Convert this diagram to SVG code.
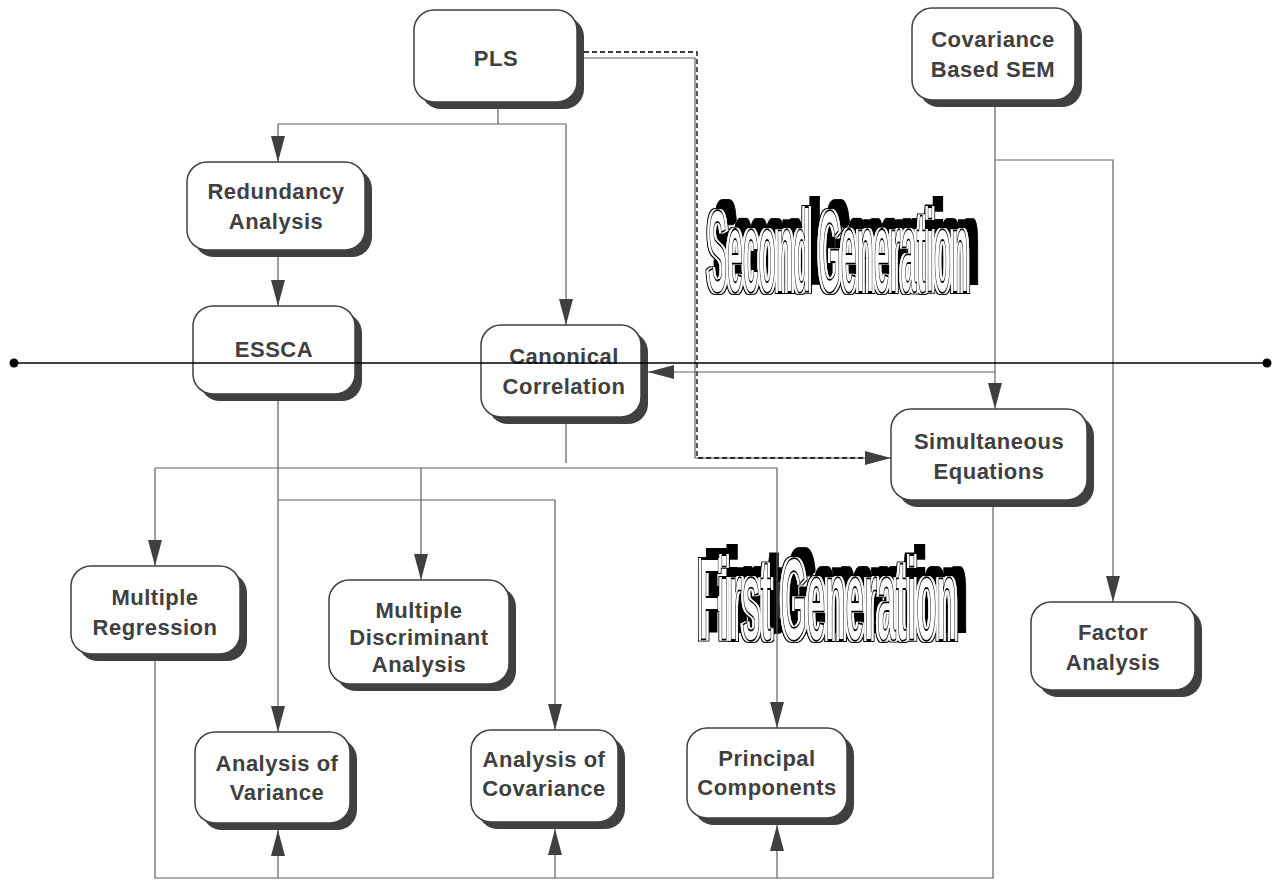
<svg xmlns="http://www.w3.org/2000/svg" width="1274" height="880" viewBox="0 0 1274 880">
<style>
.shadow{fill:#404040}
.box{fill:#fff;stroke:#404040;stroke-width:1.5}
.lbl{font-family:"Liberation Sans",Arial,sans-serif;font-weight:bold;font-size:22px;fill:#404040;text-anchor:middle;letter-spacing:0.5px}
.conn{fill:none;stroke:#606060;stroke-width:1.2}
.dash{fill:none;stroke:#000;stroke-width:1.3;stroke-dasharray:5,3}
.wa{font-family:"Liberation Sans",Arial,sans-serif;font-weight:bold;font-size:116px;fill:#fff;stroke:#000;stroke-width:2}
</style>
<defs>
<marker id="arr" markerUnits="userSpaceOnUse" markerWidth="26" markerHeight="14" refX="26" refY="7" orient="auto">
<path d="M0,0 L26,7 L0,14 z" fill="#404040"/>
</marker>
<filter id="wordfx" x="-5%" y="-30%" width="115%" height="150%">
<feMorphology in="SourceAlpha" operator="dilate" radius="2 0.3" result="body"/>
<feMorphology in="body" operator="dilate" radius="1.3" result="outl"/>
<feOffset in="outl" dx="8" dy="-9" result="sh"/>
<feFlood flood-color="#ffffff" result="w"/>
<feComposite in="w" in2="body" operator="in" result="wbody"/>
<feMerge>
<feMergeNode in="sh"/>
<feMergeNode in="outl"/>
<feMergeNode in="wbody"/>
<feMergeNode in="SourceGraphic"/>
</feMerge>
</filter>
</defs>
<rect width="1274" height="880" fill="#fff"/>

<g id="wordart-second" filter="url(#wordfx)">
<text class="wa" transform="translate(708,292) scale(0.245,1)" x="0" y="0">Second Generation</text>
</g>
<g id="wordart-first" filter="url(#wordfx)">
<text class="wa" transform="translate(699,640) scale(0.288,1)" x="0" y="0">First Generation</text>
</g>

<g id="connectors">
<polyline class="conn" points="498,102 498,124"/>
<polyline class="conn" points="278,124 566,124"/>
<polyline class="conn" points="278,124 278,162" marker-end="url(#arr)"/>
<polyline class="conn" points="566,124 566,325" marker-end="url(#arr)"/>
<polyline class="conn" points="278,253 278,306" marker-end="url(#arr)"/>
<polyline class="conn" points="584,58 695,58 695,458 891,458"/>
<polyline class="dash" points="584,52 697,52 697,458 891,458" marker-end="url(#arr)"/>
<polyline class="conn" points="995,100 995,409" marker-end="url(#arr)"/>
<polyline class="conn" points="995,372 648,372" marker-end="url(#arr)"/>
<polyline class="conn" points="995,160 1113,160 1113,602" marker-end="url(#arr)"/>
<polyline class="conn" points="566,424 566,463"/>
<polyline class="conn" points="155,468 777,468"/>
<polyline class="conn" points="155,468 155,566" marker-end="url(#arr)"/>
<polyline class="conn" points="421,468 421,580" marker-end="url(#arr)"/>
<polyline class="conn" points="777,468 777,728" marker-end="url(#arr)"/>
<polyline class="conn" points="278,401 278,732" marker-end="url(#arr)"/>
<polyline class="conn" points="278,500 555,500 555,730" marker-end="url(#arr)"/>
<polyline class="conn" points="155,660 155,878 993,878 993,507"/>
<polyline class="conn" points="278,878 278,830" marker-end="url(#arr)"/>
<polyline class="conn" points="555,878 555,829" marker-end="url(#arr)"/>
<polyline class="conn" points="777,878 777,825" marker-end="url(#arr)"/>
</g>

<g id="pls">
<rect class="shadow" x="421" y="17" width="163" height="92" rx="20"/>
<rect class="box" x="414" y="10" width="163" height="92" rx="20"/>
<text class="lbl" x="496" y="66">PLS</text>
</g>
<g id="covsem">
<rect class="shadow" x="919" y="15" width="163" height="92" rx="20"/>
<rect class="box" x="912" y="8" width="163" height="92" rx="20"/>
<text class="lbl" x="993" y="47">Covariance</text>
<text class="lbl" x="993" y="77">Based SEM</text>
</g>
<g id="redundancy">
<rect class="shadow" x="194" y="169" width="178" height="88" rx="20"/>
<rect class="box" x="187" y="162" width="178" height="88" rx="20"/>
<text class="lbl" x="276" y="199">Redundancy</text>
<text class="lbl" x="276" y="229">Analysis</text>
</g>
<g id="essca">
<rect class="shadow" x="200" y="313" width="162" height="88" rx="20"/>
<rect class="box" x="193" y="306" width="162" height="88" rx="20"/>
<text class="lbl" x="274" y="357">ESSCA</text>
</g>
<g id="canonical">
<rect class="shadow" x="488" y="332" width="160" height="92" rx="20"/>
<rect class="box" x="481" y="325" width="160" height="92" rx="20"/>
<text class="lbl" x="564" y="364">Canonical</text>
<text class="lbl" x="564" y="394">Correlation</text>
</g>
<g id="simultaneous">
<rect class="shadow" x="898" y="416" width="196" height="91" rx="20"/>
<rect class="box" x="891" y="409" width="196" height="91" rx="20"/>
<text class="lbl" x="989" y="449">Simultaneous</text>
<text class="lbl" x="989" y="479">Equations</text>
</g>
<g id="multreg">
<rect class="shadow" x="78" y="573" width="169" height="88" rx="20"/>
<rect class="box" x="71" y="566" width="169" height="88" rx="20"/>
<text class="lbl" x="155" y="605">Multiple</text>
<text class="lbl" x="155" y="635">Regression</text>
</g>
<g id="mda">
<rect class="shadow" x="336" y="587" width="180" height="104" rx="20"/>
<rect class="box" x="329" y="580" width="180" height="104" rx="20"/>
<text class="lbl" x="419" y="618">Multiple</text>
<text class="lbl" x="419" y="645">Discriminant</text>
<text class="lbl" x="419" y="672">Analysis</text>
</g>
<g id="factor">
<rect class="shadow" x="1038" y="609" width="164" height="88" rx="20"/>
<rect class="box" x="1031" y="602" width="164" height="88" rx="20"/>
<text class="lbl" x="1113" y="640">Factor</text>
<text class="lbl" x="1113" y="670">Analysis</text>
</g>
<g id="anova">
<rect class="shadow" x="202" y="739" width="155" height="91" rx="20"/>
<rect class="box" x="195" y="732" width="155" height="91" rx="20"/>
<text class="lbl" x="277" y="771">Analysis of</text>
<text class="lbl" x="277" y="800">Variance</text>
</g>
<g id="ancova">
<rect class="shadow" x="478" y="737" width="147" height="92" rx="20"/>
<rect class="box" x="471" y="730" width="147" height="92" rx="20"/>
<text class="lbl" x="544" y="767">Analysis of</text>
<text class="lbl" x="544" y="796">Covariance</text>
</g>
<g id="pca">
<rect class="shadow" x="694" y="735" width="160" height="90" rx="20"/>
<rect class="box" x="687" y="728" width="160" height="90" rx="20"/>
<text class="lbl" x="767" y="766">Principal</text>
<text class="lbl" x="767" y="795">Components</text>
</g>

<g id="divider">
<line x1="14" y1="363" x2="1267" y2="363" stroke="#000" stroke-width="1.5"/>
<circle cx="14" cy="363" r="4.5" fill="#000"/>
<circle cx="1267" cy="363" r="4.5" fill="#000"/>
</g>
</svg>
